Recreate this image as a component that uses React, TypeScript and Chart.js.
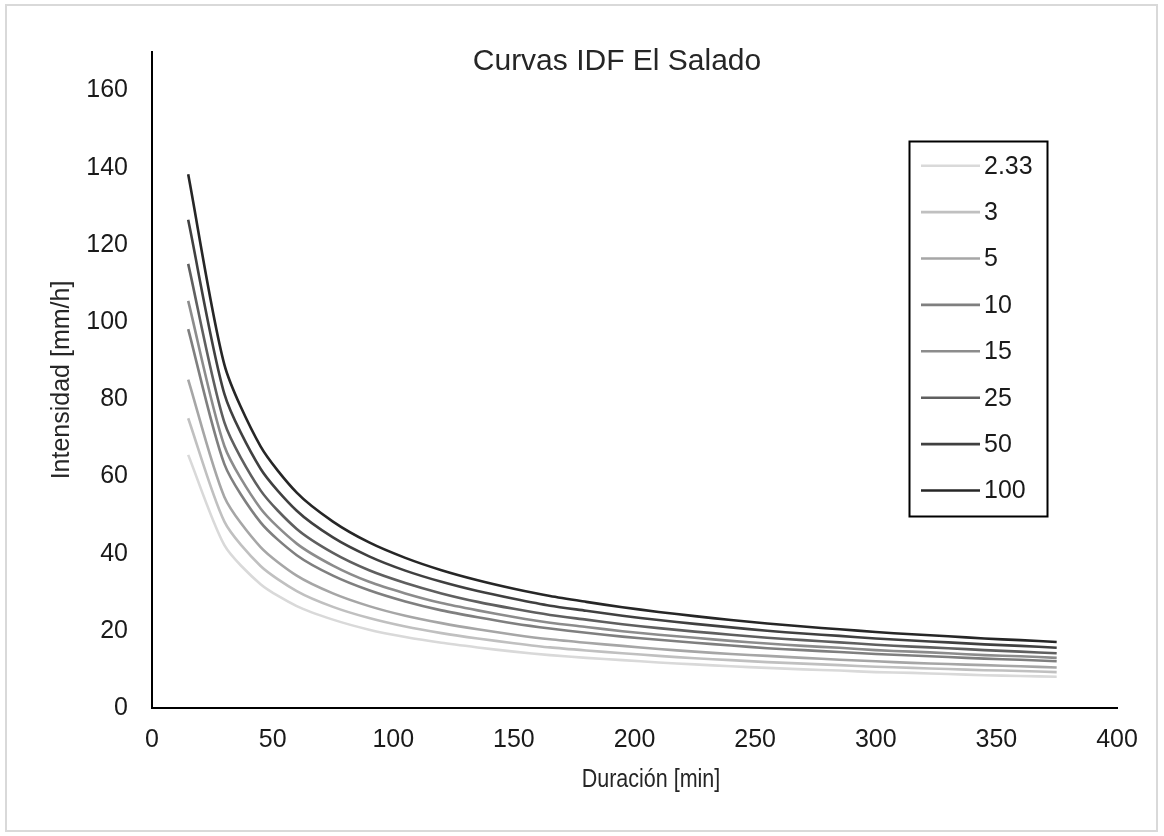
import React, { useEffect, useRef } from "react";
import { Chart, registerables } from "chart.js";

Chart.register(...registerables);

// Durations (min)
const durations = [15, 30, 45, 60, 75, 90, 105, 120, 135, 150, 165, 180, 195, 210, 225, 240, 255, 270, 285, 300, 315, 330, 345, 360, 375];

// Return periods (legend labels)
const returnPeriods = ["2.33", "3", "5", "10", "15", "25", "50", "100"];
const seriesColors = ["#d9d9d9", "#c0c0c0", "#a6a6a6", "#7f7f7f", "#8c8c8c", "#5f5f5f", "#404040", "#262626"];

// Intensities (mm/h)
const i2_33 = [65.6, 42.2, 32.1, 26.4, 22.9, 20.3, 18.4, 16.9, 15.7, 14.6, 13.7, 13.0, 12.4, 11.8, 11.3, 10.8, 10.4, 10.0, 9.7, 9.3, 9.1, 8.8, 8.5, 8.3, 8.1];
const i3 = [75.1, 48.3, 36.8, 30.3, 26.2, 23.3, 21.1, 19.4, 18.0, 16.8, 15.7, 14.9, 14.2, 13.5, 12.9, 12.4, 11.9, 11.5, 11.1, 10.7, 10.4, 10.1, 9.8, 9.6, 9.3];
const i5 = [85.1, 54.7, 41.7, 34.3, 29.7, 26.4, 23.9, 22.0, 20.4, 19.0, 17.8, 16.9, 16.1, 15.3, 14.6, 14.0, 13.5, 13.0, 12.5, 12.1, 11.7, 11.4, 11.1, 10.8, 10.5];
const i10 = [98.2, 63.2, 48.1, 39.6, 34.3, 30.5, 27.6, 25.3, 23.5, 21.9, 20.6, 19.5, 18.5, 17.7, 16.9, 16.2, 15.5, 15.0, 14.5, 14.0, 13.6, 13.2, 12.8, 12.5, 12.1];
const i15 = [105.5, 67.9, 51.7, 42.6, 36.9, 32.7, 29.7, 27.2, 25.3, 23.6, 22.1, 21.0, 19.9, 19.0, 18.2, 17.4, 16.7, 16.1, 15.6, 15.0, 14.6, 14.2, 13.7, 13.4, 13.0];
const i25 = [115.1, 74.0, 56.4, 46.4, 40.2, 35.7, 32.4, 29.7, 27.5, 25.7, 24.1, 22.9, 21.7, 20.7, 19.8, 19.0, 18.2, 17.6, 17.0, 16.4, 15.9, 15.5, 15.0, 14.6, 14.2];
const i50 = [126.5, 81.4, 62.0, 51.1, 44.2, 39.3, 35.6, 32.7, 30.3, 28.3, 26.5, 25.2, 23.9, 22.8, 21.8, 20.9, 20.0, 19.3, 18.7, 18.0, 17.5, 17.0, 16.5, 16.1, 15.6];
const i100 = [138.3, 89.0, 67.8, 55.8, 48.3, 42.9, 38.9, 35.7, 33.1, 30.9, 29.0, 27.5, 26.1, 24.9, 23.8, 22.8, 21.9, 21.1, 20.4, 19.7, 19.1, 18.6, 18.0, 17.6, 17.1];

const seriesValues = [i2_33, i3, i5, i10, i15, i25, i50, i100];

const chartTitle = "Curvas IDF El Salado";
const xTitle = "Duración [min]";
const yTitle = "Intensidad [mm/h]";

const FONT = "'Liberation Sans', Arial, sans-serif";

const titleAndLegendPlugin = {
  id: "titleAndLegend",
  afterDraw(chart: any) {
    const ctx = chart.ctx;
    ctx.save();
    // Chart title
    ctx.font = `30px ${FONT}`;
    ctx.fillStyle = "#262626";
    ctx.textAlign = "center";
    ctx.textBaseline = "middle";
    ctx.fillText(chartTitle, 610, 56);

    // X axis title (slightly condensed like the reference)
    ctx.save();
    ctx.translate(644, 774);
    ctx.scale(0.86, 1);
    ctx.font = `25px ${FONT}`;
    ctx.fillText(xTitle, 0, 0);
    ctx.restore();

    // Legend box
    const bx = 902.5, by = 135.5, bw = 138, bh = 375;
    ctx.lineWidth = 2;
    ctx.strokeStyle = "#000000";
    ctx.fillStyle = "#ffffff";
    ctx.fillRect(bx, by, bw, bh);
    ctx.strokeRect(bx, by, bw, bh);

    ctx.font = `25px ${FONT}`;
    ctx.textAlign = "left";
    ctx.textBaseline = "middle";
    chart.data.datasets.forEach((ds: any, i: number) => {
      const y = 159.7 + i * 46.4;
      ctx.strokeStyle = ds.borderColor;
      ctx.lineWidth = 2.6;
      ctx.beginPath();
      ctx.moveTo(914, y);
      ctx.lineTo(973, y);
      ctx.stroke();
      ctx.fillStyle = "#1a1a1a";
      ctx.fillText(ds.label, 977, y + 1);
    });
    ctx.restore();
  },
};

export default function App() {
  const canvasRef = useRef<HTMLCanvasElement | null>(null);

  useEffect(() => {
    if (!canvasRef.current) return;
    const datasets = returnPeriods.map((label, i) => ({
      label,
      data: durations.map((d, k) => ({ x: d, y: seriesValues[i][k] })),
      borderColor: seriesColors[i],
      backgroundColor: seriesColors[i],
      borderWidth: 2.6,
      pointRadius: 0,
      fill: false,
      tension: 0.25,
    }));

    const chart = new Chart(canvasRef.current, {
      type: "line",
      data: { datasets },
      plugins: [titleAndLegendPlugin],
      options: {
        animation: false,
        responsive: false,
        maintainAspectRatio: false,
        layout: { padding: { left: 0, top: 46, right: 39, bottom: 0 } },
        plugins: {
          legend: { display: false },
          title: { display: false },
          tooltip: { enabled: false },
        },
        scales: {
          x: {
            type: "linear",
            min: 0,
            max: 400,
            grid: { display: false, drawTicks: false },
            border: { display: true, color: "#000000", width: 2 },
            ticks: {
              stepSize: 50,
              padding: 17,
              color: "#1a1a1a",
              font: { family: FONT, size: 25 },
              maxRotation: 0,
            },
            title: { display: false },
            afterFit: (scale: any) => {
              scale.height = 122;
            },
          },
          y: {
            type: "linear",
            min: 0,
            max: 170,
            grid: { display: false, drawTicks: false },
            border: { display: true, color: "#000000", width: 2 },
            ticks: {
              stepSize: 20,
              includeBounds: false,
              padding: 24,
              color: "#1a1a1a",
              font: { family: FONT, size: 25 },
            },
            title: {
              display: true,
              text: yTitle,
              color: "#262626",
              font: { family: FONT, size: 25 },
              padding: { top: 40, bottom: 0 },
            },
            afterFit: (scale: any) => {
              scale.width = 145;
            },
          },
        },
      },
    });
    return () => chart.destroy();
  }, []);

  return (
    <div
      style={{
        position: "absolute",
        left: 5,
        top: 4,
        width: 1153,
        height: 828,
        boxSizing: "border-box",
        border: "2px solid #d9d9d9",
        background: "#ffffff",
      }}
    >
      <canvas ref={canvasRef} width={1149} height={824} style={{ display: "block" }} />
    </div>
  );
}
